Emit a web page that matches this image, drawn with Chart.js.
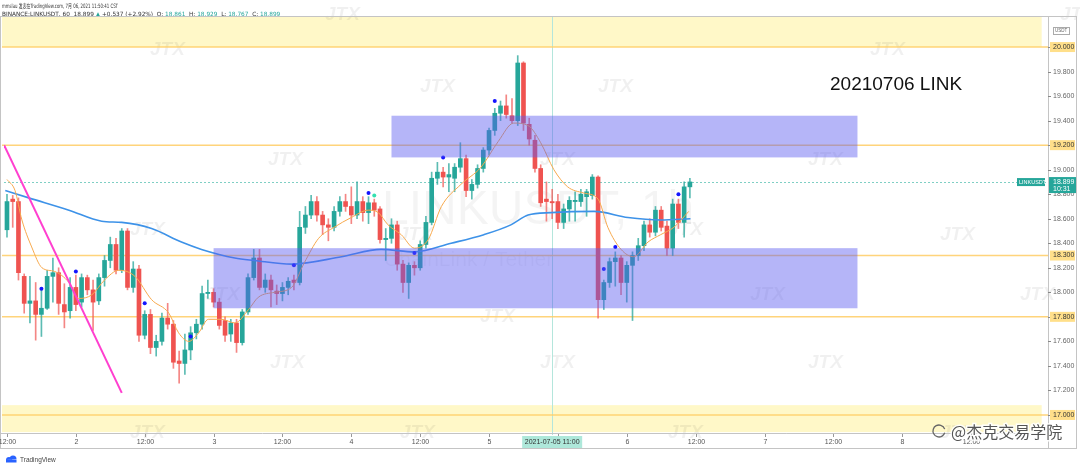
<!DOCTYPE html>
<html><head><meta charset="utf-8">
<script src="https://cdn.jsdelivr.net/npm/chart.js@4.4.0/dist/chart.umd.min.js"></script>
<style>html,body{margin:0;padding:0;background:#fff;overflow:hidden}canvas{display:block}</style>
</head><body><canvas id="c" width="1080" height="468"></canvas>
<script>
// ---- data (hourly candles, BINANCE:LINKUSDT 60) ----
const openP = [18.51,18.76,18.74,18.13,17.91,17.93,17.82,17.87,18.13,18.16,
17.90,17.85,18.04,17.92,18.12,18.02,17.93,18.12,18.26,18.39,
18.18,18.50,18.04,18.19,17.65,17.82,17.55,17.60,17.79,17.74,
17.44,17.42,17.53,17.67,17.74,17.99,18.00,17.92,17.77,17.66,
17.75,17.59,17.84,18.12,18.28,18.04,18.10,18.01,17.99,18.04,
18.10,18.08,18.53,18.63,18.74,18.63,18.55,18.53,18.66,18.74,
18.70,18.63,18.74,18.65,18.73,18.68,18.43,18.44,18.55,18.23,
18.08,18.22,18.20,18.39,18.57,18.93,18.98,18.94,18.93,19.02,
19.09,18.83,18.88,19.01,19.16,19.32,19.46,19.52,19.44,19.40,
19.87,19.37,19.24,19.01,18.76,18.74,18.74,18.57,18.68,18.74,
18.74,18.78,18.79,18.94,17.94,18.08,18.25,18.28,18.08,18.22,
18.30,18.38,18.55,18.49,18.67,18.54,18.36,18.72,18.57,18.86];
const highP = [18.80,18.79,18.77,18.15,18.13,18.08,18.04,18.18,18.28,18.20,
18.07,18.12,18.14,18.15,18.14,18.10,18.15,18.30,18.45,18.44,
18.52,18.52,18.25,18.22,17.85,17.86,17.65,17.83,17.91,17.77,
17.52,17.66,17.72,17.78,18.05,18.10,18.03,17.95,17.80,17.78,
17.78,17.86,18.15,18.35,18.35,18.15,18.14,18.06,18.08,18.12,
18.14,18.66,18.70,18.79,18.78,18.66,18.60,18.70,18.78,18.80,
18.86,18.90,18.78,18.78,18.76,18.70,18.52,18.60,18.58,18.26,
18.24,18.25,18.42,18.62,18.98,19.06,19.02,19.05,19.05,19.22,
19.12,18.92,19.04,19.18,19.34,19.50,19.56,19.61,19.58,19.93,
19.88,19.42,19.28,19.04,18.90,18.84,18.80,18.72,18.78,18.82,
18.84,18.84,18.96,18.95,18.10,18.28,18.33,18.30,18.25,18.33,
18.44,18.58,18.60,18.70,18.70,18.58,18.76,18.76,18.90,18.93];
const lowP = [18.45,18.53,18.10,17.83,17.75,17.61,17.64,17.86,17.92,17.82,
17.71,17.79,17.85,17.88,17.98,17.69,17.90,18.05,18.20,18.15,
18.16,18.02,18.00,17.60,17.62,17.50,17.48,17.57,17.70,17.38,
17.26,17.33,17.45,17.62,17.70,17.95,17.88,17.70,17.60,17.60,
17.51,17.57,17.82,18.10,18.02,18.00,17.88,17.90,17.93,17.98,
18.02,18.06,18.48,18.60,18.58,18.47,18.42,18.50,18.62,18.66,
18.56,18.60,18.58,18.56,18.62,18.40,18.26,18.40,18.18,18.00,
17.95,18.14,18.18,18.36,18.55,18.88,18.86,18.82,18.82,18.98,
18.78,18.76,18.85,18.98,19.12,19.28,19.40,19.42,19.38,19.36,
19.32,19.20,18.98,18.70,18.58,18.60,18.52,18.52,18.58,18.58,
18.70,18.62,18.76,17.79,17.86,18.04,18.05,17.98,17.92,17.77,
18.26,18.34,18.45,18.46,18.50,18.30,18.30,18.52,18.45,18.77];
const closeP = [18.74,18.74,18.16,17.91,17.93,17.82,17.87,18.13,18.16,17.91,
17.84,18.04,17.90,18.12,18.02,17.92,18.12,18.26,18.39,18.18,
18.50,18.04,18.19,17.65,17.82,17.55,17.60,17.79,17.74,17.43,
17.42,17.53,17.67,17.74,17.99,18.00,17.92,17.73,17.65,17.75,
17.59,17.84,18.12,18.28,18.04,18.10,18.02,17.99,18.04,18.09,
18.08,18.53,18.63,18.74,18.63,18.55,18.53,18.66,18.74,18.70,
18.63,18.74,18.65,18.73,18.67,18.43,18.44,18.55,18.23,18.08,
18.22,18.20,18.39,18.57,18.93,18.98,18.94,18.96,19.02,19.09,
18.83,18.88,19.01,19.16,19.32,19.46,19.52,19.45,19.40,19.87,
19.38,19.25,19.01,18.73,18.74,18.73,18.57,18.68,18.75,18.75,
18.80,18.82,18.94,17.94,18.08,18.25,18.28,18.08,18.22,18.30,
18.38,18.55,18.49,18.67,18.53,18.36,18.72,18.57,18.86,18.90];
// moving averages: [candle index, price]
const maFast = [[0,18.92],[1.4,18.83],[2.6,18.59],[4.3,18.37],[6.1,18.20],[8.3,18.17],[10.8,18.08],[12.5,17.95],[14.8,17.98],[17,18.10],[19.5,18.18],[22.3,18.13],[25.2,17.94],[28.2,17.83],[29.9,17.67],[31.7,17.60],[33.4,17.67],[35.1,17.78],[37.4,17.78],[39.7,17.75],[42.1,17.86],[43.8,17.96],[46.6,18.00],[49.6,18.04],[51.8,18.24],[54.3,18.44],[57,18.53],[60,18.61],[63,18.67],[64.7,18.65],[66.4,18.55],[68.7,18.47],[71,18.36],[73.4,18.43],[75.7,18.70],[79.1,18.88],[82.6,19.02],[85.6,19.23],[88.3,19.38],[90.8,19.36],[93,19.22],[95.3,19.00],[97.7,18.86],[100.5,18.81],[103,18.76],[104.7,18.53],[107,18.35],[109.2,18.29],[111.7,18.41],[113.9,18.47],[116.2,18.53],[118.8,18.66]];
const maSlow = [[-0.3,18.83],[3.8,18.77],[10.8,18.67],[16.5,18.58],[20,18.57],[25.2,18.52],[30.4,18.41],[33.9,18.35],[39.7,18.28],[43.1,18.26],[49.6,18.23],[58.3,18.29],[65.2,18.35],[71,18.33],[77.4,18.40],[83.1,18.47],[87.8,18.55],[90.8,18.63],[94.8,18.65],[102.3,18.66],[108.2,18.61],[113.9,18.59],[119.1,18.60]];
const trendLine = [[-0.5,19.20],[20,17.18]];
const signalDots = [[6,18.03],[12,18.17],[24,17.91],[32,17.64],[50,18.22],[63,18.81],[71,18.32],[76,19.10],[85,19.56],[104,18.19],[106,18.37],[117,18.80]];
const signalDotsGreen = [[64,18.79]];
const levels = [20.0, 19.2, 18.3, 17.8, 17.0];
const boxStart = [67, 36], boxEnd = [148.2, 148.2], boxTop = [19.44, 18.36], boxBottom = [19.10, 17.87];
const zoneTop = [20.25, 17.08], zoneBottom = [20.0, 16.86], zoneEnd = 180.3;
const yTickValues = [17.0,17.2,17.4,17.6,17.8,18.0,18.2,18.4,18.6,18.8,19.0,19.2,19.4,19.6,19.8,20.0];
const xTickPos = [0,12,24,36,48,60,72,84,96,108,120,132,144,156,168];
const xTickLabels = ['12:00','2','12:00','3','12:00','4','12:00','5','12:00','6','12:00','7','12:00','8','12:00'];
const lastPrice = 18.899;
const crossIdx = 95;
const crossLabel = '2021-07-05 11:00';
const titleText = '20210706 LINK';

const UP = '#26a69a', DN = '#ef5350';
const idx = openP.map((_, i) => i);
const candleCol = idx.map(i => closeP[i] >= openP[i] ? UP : DN);
const pairs = a => a.map(([x, y]) => ({x, y}));

const FONT = '"Liberation Sans", "DejaVu Sans", sans-serif';

function fitText(ctx, text, x, y, w) {
  const m = ctx.measureText(text).width;
  ctx.save();
  ctx.translate(x, y);
  ctx.scale(w / m, 1);
  ctx.fillText(text, 0, 0);
  ctx.restore();
}

const overlay = {
  id: 'overlay',
  beforeDatasetsDraw(chart) {
    const ctx = chart.ctx, xs = chart.scales.x, ys = chart.scales.y, ca = chart.chartArea;
    const X = v => xs.getPixelForValue(v), Y = v => ys.getPixelForValue(v);
    ctx.save();
    ctx.fillStyle = '#fff8c8';
    zoneTop.forEach((t, k) => {
      ctx.fillRect(ca.left - 2, Y(t), X(zoneEnd) - ca.left + 2, Y(zoneBottom[k]) - Y(t));
    });
    ctx.fillStyle = 'rgba(0,0,0,0.045)';
    ctx.font = '48px ' + FONT;
    ctx.textBaseline = 'alphabetic';
    ctx.fillText('LINKUSDT, 1h', 382, 224);
    ctx.font = '21px ' + FONT;
    ctx.fillText('ChainLink / Tether', 384, 266);
    ctx.fillStyle = 'rgba(0,0,0,0.06)';
    ctx.font = 'italic bold 19px ' + FONT;
    const wm = [[150,55],[325,20],[598,92],[870,55],[420,92],[1060,20],
                [268,165],[540,165],[808,165],[130,235],[398,240],[668,235],[940,240],
                [205,300],[480,322],[750,300],[1020,300],[270,368],[540,368],[808,368],
                [130,438],[400,438],[668,438],[940,438]];
    wm.forEach(([x, y]) => ctx.fillText('JTX', x, y));
    ctx.strokeStyle = '#b4e6dc';
    ctx.lineWidth = 1;
    ctx.beginPath();
    ctx.moveTo(Math.round(X(crossIdx)) + 0.5, ca.top);
    ctx.lineTo(Math.round(X(crossIdx)) + 0.5, ca.bottom + 3);
    ctx.stroke();
    ctx.strokeStyle = 'rgba(255,205,100,0.85)';
    ctx.lineWidth = 1.5;
    levels.forEach(l => {
      ctx.beginPath(); ctx.moveTo(ca.left - 2, Y(l)); ctx.lineTo(ca.right, Y(l)); ctx.stroke();
    });
    ctx.strokeStyle = '#7fcfc4';
    ctx.lineWidth = 1;
    ctx.setLineDash([2, 2]);
    ctx.beginPath(); ctx.moveTo(ca.left, Math.round(Y(lastPrice)) + 0.5); ctx.lineTo(ca.right, Math.round(Y(lastPrice)) + 0.5); ctx.stroke();
    ctx.setLineDash([]);
    ctx.restore();
  },
  afterDatasetsDraw(chart) {
    const ctx = chart.ctx, xs = chart.scales.x, ys = chart.scales.y, ca = chart.chartArea;
    const X = v => xs.getPixelForValue(v), Y = v => ys.getPixelForValue(v);
    ctx.save();
    ctx.fillStyle = 'rgba(92,92,240,0.45)';
    boxStart.forEach((s, k) => {
      ctx.fillRect(X(s), Y(boxTop[k]), X(boxEnd[k]) - X(s), Y(boxBottom[k]) - Y(boxTop[k]));
    });
    ctx.fillStyle = '#111';
    ctx.font = '19px ' + FONT;
    ctx.textBaseline = 'middle';
    ctx.textAlign = 'left';
    ctx.fillText(titleText, 830, 85);
    // header
    ctx.font = '6px "DejaVu Sans", "Noto Sans CJK SC", sans-serif';
    ctx.fillStyle = '#333';
    fitText(ctx, 'mmslau 发表在TradingView.com, 7月 06, 2021 11:50:41 CST', 2, 6, 116);
    ctx.font = '5.8px "DejaVu Sans", sans-serif';
    let hx = 2;
    const seg = (t, c) => { ctx.fillStyle = c; ctx.fillText(t, hx, 14); hx += ctx.measureText(t).width; };
    seg('BINANCE:LINKUSDT, 60  18.899 ', '#333');
    seg('▲', UP);
    seg(' +0.537 (+2.92%)  O: ', '#333'); seg('18.861', UP);
    seg('  H: ', '#333'); seg('18.929', UP);
    seg('  L: ', '#333'); seg('18.767', UP);
    seg('  C: ', '#333'); seg('18.899', UP);
    ctx.strokeStyle = '#c4c4c4';
    ctx.lineWidth = 1;
    ctx.strokeRect(0.5, 16.5, 1076, 432);
    ctx.beginPath();
    ctx.moveTo(ca.right + 0.5, 16.5); ctx.lineTo(ca.right + 0.5, 448.5);
    ctx.moveTo(0.5, ca.bottom + 1.5); ctx.lineTo(ca.right, ca.bottom + 1.5);
    ctx.stroke();
    ctx.font = '7px ' + FONT;
    ctx.textBaseline = 'middle';
    ctx.textAlign = 'left';
    yTickValues.forEach(v => {
      const y = Math.round(Y(v)) + 0.5;
      ctx.strokeStyle = '#888';
      ctx.beginPath(); ctx.moveTo(ca.right, y); ctx.lineTo(ca.right + 3, y); ctx.stroke();
      ctx.fillStyle = '#666';
      ctx.fillText(v.toFixed(3), ca.right + 5, y);
    });
    levels.forEach(l => {
      const y = Y(l);
      ctx.fillStyle = '#ffdf8a';
      ctx.fillRect(ca.right + 2, y - 5, 25, 10);
      ctx.fillStyle = '#333';
      ctx.fillText(l.toFixed(3), ca.right + 5, y);
    });
    const py = Y(lastPrice);
    ctx.fillStyle = UP;
    ctx.fillRect(ca.right + 1, py - 5, 27, 16);
    ctx.fillStyle = '#fff';
    ctx.fillText(lastPrice.toFixed(3), ca.right + 5, py);
    ctx.fillText('10:31', ca.right + 5, py + 7);
    ctx.fillStyle = UP;
    ctx.fillRect(ca.right - 31, py - 4, 28, 8);
    ctx.fillStyle = '#fff';
    ctx.font = '5.5px ' + FONT;
    ctx.fillText('LINKUSDT', ca.right - 29, py);
    ctx.strokeStyle = '#aaa';
    ctx.strokeRect(1053.5, 27.5, 16, 7);
    ctx.fillStyle = '#666';
    ctx.font = '4.5px ' + FONT;
    ctx.fillText('USDT', 1055, 31);
    ctx.font = '7px ' + FONT;
    ctx.textAlign = 'center';
    xTickPos.forEach((p, k) => {
      const x = Math.round(X(p)) + 0.5;
      ctx.strokeStyle = '#999';
      ctx.beginPath(); ctx.moveTo(x, ca.bottom + 2); ctx.lineTo(x, ca.bottom + 5); ctx.stroke();
      ctx.fillStyle = '#555';
      ctx.fillText(xTickLabels[k], x, ca.bottom + 10);
    });
    const cx = X(crossIdx);
    ctx.fillStyle = '#aee8da';
    ctx.fillRect(cx - 30, ca.bottom + 4, 60, 12);
    ctx.fillStyle = '#333';
    ctx.fillText(crossLabel, cx, ca.bottom + 10);
    ctx.fillStyle = '#2962ff';
    ctx.beginPath();
    ctx.arc(9, 460, 3, Math.PI, 0); ctx.arc(13, 459, 3.5, Math.PI, 0);
    ctx.fillRect(6, 459.5, 10.5, 3);
    ctx.fill();
    ctx.textAlign = 'left';
    ctx.fillStyle = '#444';
    ctx.font = '6.5px ' + FONT;
    ctx.fillText('TradingView', 20, 460);
    ctx.font = '16px "Noto Sans CJK SC", sans-serif';
    ctx.lineWidth = 3;
    ctx.strokeStyle = 'rgba(255,255,255,0.9)';
    ctx.strokeText('@杰克交易学院', 951, 432);
    ctx.fillStyle = '#555';
    ctx.fillText('@杰克交易学院', 951, 432);
    ctx.lineWidth = 1.3;
    ctx.strokeStyle = '#666';
    ctx.beginPath(); ctx.arc(939, 431, 6, 0.3, Math.PI * 1.9); ctx.stroke();
    ctx.restore();
  }
};

new Chart(document.getElementById('c'), {
  type: 'bar',
  data: {
    datasets: [
      { type: 'line', label: 'signal', data: pairs(signalDots), showLine: false, pointRadius: 2, pointBackgroundColor: '#1414ff', pointBorderWidth: 0, order: 0 },
      { type: 'line', label: 'signal2', data: pairs(signalDotsGreen), showLine: false, pointRadius: 2, pointBackgroundColor: '#33e0b0', pointBorderWidth: 0, order: 0 },
      { type: 'line', label: 'trend', data: pairs(trendLine), borderColor: '#ff3fcf', borderWidth: 2, pointRadius: 0, order: 1 },
      { type: 'line', label: 'MA fast', data: pairs(maFast), borderColor: '#f7a94d', borderWidth: 1, pointRadius: 0, cubicInterpolationMode: 'monotone', order: 2 },
      { type: 'line', label: 'MA slow', data: pairs(maSlow), borderColor: '#3d92e8', borderWidth: 1.6, pointRadius: 0, cubicInterpolationMode: 'monotone', order: 3 },
      { label: 'body', data: idx.map(i => ({x: i, y: [openP[i], closeP[i]]})), backgroundColor: candleCol, barThickness: 4, minBarLength: 1, grouped: false, borderWidth: 0, order: 4 },
      { label: 'wick', data: idx.map(i => ({x: i, y: [lowP[i], highP[i]]})), backgroundColor: candleCol.map(c => c === UP ? 'rgba(38,166,154,0.75)' : 'rgba(239,83,80,0.7)'), barThickness: 1, grouped: false, borderWidth: 0, order: 5 }
    ]
  },
  options: {
    responsive: false,
    animation: false,
    devicePixelRatio: 1,
    layout: { padding: { left: 2, right: 32, top: 17, bottom: 36 } },
    plugins: { legend: { display: false }, tooltip: { enabled: false } },
    scales: {
      x: { type: 'linear', min: -0.52, max: 181.4, display: false, offset: false },
      y: { type: 'linear', min: 16.861, max: 20.245, display: false }
    }
  },
  plugins: [overlay]
});
</script>
</body></html>
